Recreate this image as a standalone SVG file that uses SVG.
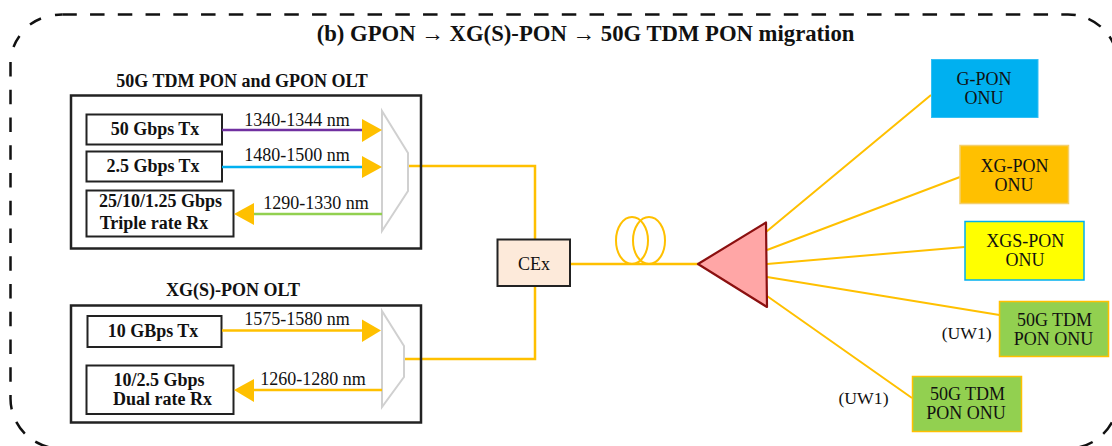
<svg xmlns="http://www.w3.org/2000/svg" width="1112" height="446" viewBox="0 0 1112 446">
<style>
text{font-family:"Liberation Serif","Times New Roman",serif;fill:#111;text-anchor:middle;font-size:18px}
.b{font-weight:bold}
.title{font-size:22.700px}
.uw{font-size:17.700px}
.olt{fill:none;stroke:#222;stroke-width:2.500}
.box{fill:#fff;stroke:#222;stroke-width:2}
.mux{fill:#fff;stroke:#d0d0d0;stroke-width:2}
.f{fill:none;stroke:#FFC000;stroke-width:2.500}
.d{fill:none;stroke:#FFC000;stroke-width:2}
.head{fill:#FFC000}
.frame{fill:none;stroke:#111;stroke-width:2.500}
</style>
<g id="frame">
<path class="frame" stroke-dasharray="14.500 13.250" d="M62.300 14.500H1068A50 50 0 0 1 1118 64.500V398A50 50 0 0 1 1068 448.500H60"/>
<path class="frame" stroke-dasharray="14.500 13.250" d="M10.500 62V398A50 50 0 0 0 60.500 448.500"/>
<path class="frame" d="M13.500 47A50 50 0 0 1 19.500 36M30 24.500A50 50 0 0 1 41 18.500M55 15A50 50 0 0 1 62.300 14.500"/>
</g>
<text x="585.500" y="41" class="b title">(b) GPON → XG(S)-PON → 50G TDM PON migration</text>
<g id="connectors">
<path class="f" d="M408 166H535V239M535 286V359H404M570 264H698"/>
<ellipse class="d" cx="632" cy="240.500" rx="16" ry="23.500"/>
<ellipse class="d" cx="649" cy="240.500" rx="16" ry="23.500"/>
<path class="d" d="M766 232L931 95M767 250L960 177M767 264L964.500 247M767 277L999.500 315M767 296L912 398"/>
</g>
<g id="olt-a">
<text x="242" y="87" class="b">50G TDM PON and GPON OLT</text>
<rect class="olt" x="71" y="95.500" width="350" height="153"/>
<g id="mux-a"><path class="mux" d="M382 111L408 153V191L382 231Z"/></g>
<g id="tx-50"><rect class="box" x="86.500" y="114.500" width="135.500" height="30"/><text x="155" y="135" class="b">50 Gbps Tx</text></g>
<g id="tx-25"><rect class="box" x="86.500" y="151.500" width="135.500" height="30"/><text x="153" y="172" class="b">2.5 Gbps Tx</text></g>
<g id="rx-triple"><rect class="box" x="86.500" y="190.500" width="147" height="46"/><text x="160.500" y="207" class="b">25/10/1.25 Gbps</text><text x="154" y="229" class="b">Triple rate Rx</text></g>
<path d="M222 130H362" fill="none" stroke="#7030A0" stroke-width="2.500"/>
<path class="head" d="M362 119L382 130L362 142Z"/>
<text x="297" y="126">1340-1344 nm</text>
<path d="M222 167H362" fill="none" stroke="#00B0F0" stroke-width="2.500"/>
<path class="head" d="M362 156L382 167L362 178Z"/>
<text x="297" y="161">1480-1500 nm</text>
<path d="M382 214H254" fill="none" stroke="#92D050" stroke-width="2.500"/>
<path class="head" d="M254 203L234 214L254 225Z"/>
<text x="316" y="209">1290-1330 nm</text>
</g>
<g id="olt-b">
<text x="233" y="296" class="b">XG(S)-PON OLT</text>
<rect class="olt" x="71" y="305.500" width="350" height="117"/>
<g id="mux-b"><path class="mux" d="M382 311L404 346V377L382 407Z"/></g>
<g id="tx-10"><rect class="box" x="87.500" y="316" width="134" height="31"/><text x="153" y="337" class="b">10 GBps Tx</text></g>
<g id="rx-dual"><rect class="box" x="86.500" y="365.500" width="147" height="48.500"/><text x="159" y="386" class="b">10/2.5 Gbps</text><text x="162.500" y="405" class="b">Dual rate Rx</text></g>
<path class="f" d="M222 330.500H362"/>
<path class="head" d="M362 319.500L381 330.500L362 342Z"/>
<text x="297" y="325">1575-1580 nm</text>
<path class="f" d="M382 390H254"/>
<path class="head" d="M254 379L234 390L254 402Z"/>
<text x="313" y="385">1260-1280 nm</text>
</g>
<g id="cex"><rect x="497.500" y="239.500" width="72.500" height="46.500" fill="#FDEADA" stroke="#222" stroke-width="2"/><text x="534" y="270">CEx</text></g>
<g id="splitter"><path d="M698 264L766 222.500L767 307Z" fill="#FFA6A6" stroke="#8B1010" stroke-width="2.200" stroke-linejoin="round"/></g>
<g id="onu-g"><rect x="931.500" y="59.500" width="106.500" height="58" fill="#00B0F0" stroke="#33BFF5" stroke-width="1"/><text x="984" y="85">G-PON</text><text x="984" y="103.500">ONU</text></g>
<g id="onu-xg"><rect x="960" y="145.500" width="108.500" height="58" fill="#FFC000" stroke="#F3CF6E" stroke-width="1.500"/><text x="1014.500" y="171.500">XG-PON</text><text x="1014" y="190.500">ONU</text></g>
<g id="onu-xgs"><rect x="965" y="221.500" width="119" height="58.500" fill="#FFFF00" stroke="#00B0F0" stroke-width="1.500"/><text x="1025.300" y="247">XGS-PON</text><text x="1025" y="266">ONU</text></g>
<g id="onu-50a"><rect x="999.500" y="301.500" width="109" height="55" fill="#92D050" stroke="#FFC000" stroke-width="1.500"/><text x="1054.500" y="326">50G TDM</text><text x="1053.500" y="344.500">PON ONU</text></g>
<g id="onu-50b"><rect x="912.500" y="376.500" width="109" height="55" fill="#92D050" stroke="#FFC000" stroke-width="1.500"/><text x="967.500" y="400">50G TDM</text><text x="966" y="419">PON ONU</text></g>
<text x="966.700" y="339" class="uw">(UW1)</text>
<text x="863.500" y="404" class="uw">(UW1)</text>
</svg>
